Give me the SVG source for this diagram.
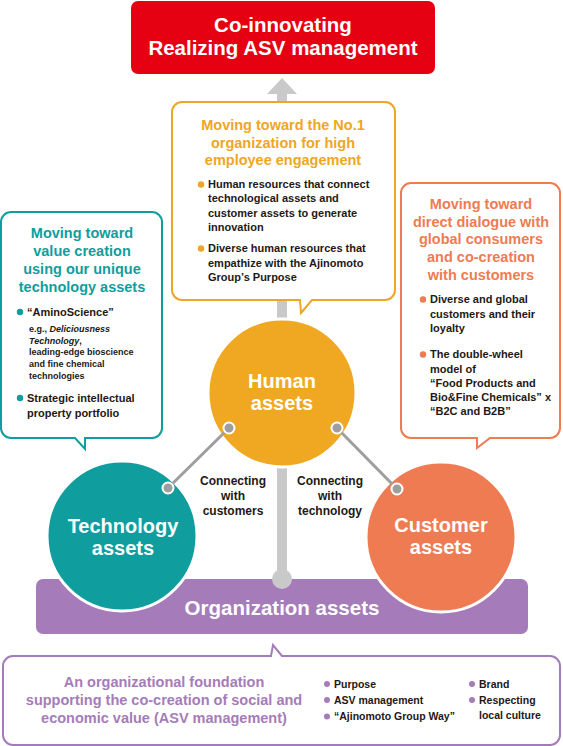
<svg xmlns="http://www.w3.org/2000/svg" width="563" height="746" viewBox="0 0 563 746">
<style>
text{font-family:"Liberation Sans",Arial,sans-serif;font-weight:bold}
.c{text-anchor:middle}
.w{fill:#ffffff}
.d{fill:#231815}
.b11{font-size:11px}
.t{font-size:14.5px}
.big{font-size:20px}
.box{fill:#ffffff;stroke-width:2}
.circ{stroke:#ffffff;stroke-width:3}
.conn{stroke:#9e9e9e;stroke-width:3;fill:none}
.dot{fill:#9e9e9e;stroke:#ffffff;stroke-width:2}
</style>
<rect width="563" height="746" fill="#ffffff"/>

<g id="shaft">
<rect x="277" y="92" width="10" height="488" fill="#c9c9c9"/>
<polygon points="282,78 297,94 267,94" fill="#c9c9c9"/>
</g>

<g id="goal">
<rect x="131" y="1" width="304" height="73" rx="7" fill="#e50012"/>
<text class="c w" x="283" y="32" font-size="20.5">Co-innovating</text>
<text class="c w" x="283" y="55" font-size="20.5">Realizing ASV management</text>
</g>

<g id="human-box">
<path class="box" stroke="#eea624" d="M182,102 H385 A10,10 0 0 1 395,112 V290 A10,10 0 0 1 385,300 H312 L301,313 L300,300 H182 A10,10 0 0 1 172,290 V112 A10,10 0 0 1 182,102 Z"/>
<g fill="#eea624">
<text class="c t" x="283" y="130">Moving toward the No.1</text>
<text class="c t" x="283" y="147.5">organization for high</text>
<text class="c t" x="283" y="165">employee engagement</text>
<circle cx="201" cy="184.5" r="3.2"/>
<circle cx="201" cy="248.5" r="3.2"/>
</g>
<g class="d b11">
<text x="208" y="188">Human resources that connect</text>
<text x="208" y="202.3">technological assets and</text>
<text x="208" y="216.6">customer assets to generate</text>
<text x="208" y="231">innovation</text>
<text x="208" y="252">Diverse human resources that</text>
<text x="208" y="266.5">empathize with the Ajinomoto</text>
<text x="208" y="281">Group’s Purpose</text>
</g>
</g>

<g id="tech-box">
<path class="box" stroke="#0f9d9e" d="M11,212 H152 A10,10 0 0 1 162,222 V428 A10,10 0 0 1 152,438 H85 V449 L75,438 H11 A10,10 0 0 1 1,428 V222 A10,10 0 0 1 11,212 Z"/>
<g fill="#0f9d9e">
<text class="c t" x="82" y="238">Moving toward</text>
<text class="c t" x="82" y="256">value creation</text>
<text class="c t" x="82" y="274">using our unique</text>
<text class="c t" x="82" y="292">technology assets</text>
<circle cx="20" cy="312" r="3.2"/>
<circle cx="20" cy="398" r="3.2"/>
</g>
<g class="d">
<text class="b11" x="27" y="316">“AminoScience”</text>
<text x="29" y="331.7" font-size="9">e.g., <tspan font-style="italic">Deliciousness</tspan></text>
<text x="29" y="343.5" font-size="9"><tspan font-style="italic">Technology</tspan>,</text>
<text x="29" y="355.3" font-size="9">leading-edge bioscience</text>
<text x="29" y="367.1" font-size="9">and fine chemical</text>
<text x="29" y="379" font-size="9">technologies</text>
<text class="b11" x="27" y="402">Strategic intellectual</text>
<text class="b11" x="27" y="417">property portfolio</text>
</g>
</g>

<g id="customer-box">
<path class="box" stroke="#ef7b52" d="M411,183 H550 A10,10 0 0 1 560,193 V428 A10,10 0 0 1 550,438 H490 L477,448 V438 H411 A10,10 0 0 1 401,428 V193 A10,10 0 0 1 411,183 Z"/>
<g fill="#ef7b52">
<text class="c t" x="481" y="208.5">Moving toward</text>
<text class="c t" x="481" y="226.5">direct dialogue with</text>
<text class="c t" x="481" y="244">global consumers</text>
<text class="c t" x="481" y="262">and co-creation</text>
<text class="c t" x="481" y="280">with customers</text>
<circle cx="423" cy="299.5" r="3.2"/>
<circle cx="423" cy="354.5" r="3.2"/>
</g>
<g class="d b11">
<text x="430" y="303.3">Diverse and global</text>
<text x="430" y="317.6">customers and their</text>
<text x="430" y="331.8">loyalty</text>
<text x="430" y="358.3">The double-wheel</text>
<text x="430" y="372.6">model of</text>
<text x="430" y="386.8">“Food Products and</text>
<text x="430" y="401">Bio&amp;Fine Chemicals” x</text>
<text x="430" y="415.2">“B2C and B2B”</text>
</g>
</g>

<g id="organization-assets">
<rect x="36" y="579" width="492" height="55" rx="7" fill="#a57cb9"/>
<circle cx="282" cy="579" r="10" fill="#c9c9c9"/>
</g>

<g id="human-assets">
<circle class="circ" cx="282" cy="393" r="74" fill="#f0a822"/>
<text class="c w big" x="282" y="388">Human</text>
<text class="c w big" x="282" y="410">assets</text>
</g>

<g id="technology-assets">
<circle class="circ" cx="122" cy="536" r="75" fill="#0f9d9e"/>
<text class="c w big" x="123" y="533">Technology</text>
<text class="c w big" x="123" y="555">assets</text>
</g>

<g id="customer-assets">
<circle class="circ" cx="441" cy="537" r="75" fill="#ef7b52"/>
<text class="c w big" x="441" y="532">Customer</text>
<text class="c w big" x="441" y="554">assets</text>
</g>

<text class="c w" x="282" y="615" font-size="20.5">Organization assets</text>

<g id="connectors">
<line class="conn" x1="229" y1="428" x2="168" y2="488"/>
<line class="conn" x1="337" y1="428" x2="397" y2="489"/>
<circle class="dot" cx="229" cy="428" r="5.5"/>
<circle class="dot" cx="168" cy="488" r="5.5"/>
<circle class="dot" cx="337" cy="428" r="5.5"/>
<circle class="dot" cx="397" cy="489" r="5.5"/>
<g class="c d" font-size="12">
<text x="233" y="485">Connecting</text>
<text x="233" y="500">with</text>
<text x="233" y="515">customers</text>
<text x="330" y="485">Connecting</text>
<text x="330" y="500">with</text>
<text x="330" y="515">technology</text>
</g>
</g>

<g id="foundation-box">
<path class="box" stroke="#a57cb9" d="M13,656 H271 L273,645 L282,656 H550 A10,10 0 0 1 560,666 V735 A10,10 0 0 1 550,745 H13 A10,10 0 0 1 3,735 V666 A10,10 0 0 1 13,656 Z"/>
<g fill="#a57cb9">
<text class="c t" x="164" y="687">An organizational foundation</text>
<text class="c t" x="164" y="705">supporting the co-creation of social and</text>
<text class="c t" x="164" y="723">economic value (ASV management)</text>
<circle cx="327" cy="684" r="3"/>
<circle cx="327" cy="700" r="3"/>
<circle cx="327" cy="716.5" r="3"/>
<circle cx="472" cy="684" r="3"/>
<circle cx="472" cy="700" r="3"/>
</g>
<g class="d" font-size="10.5">
<text x="334" y="687.7">Purpose</text>
<text x="334" y="704">ASV management</text>
<text x="334" y="720.3">“Ajinomoto Group Way”</text>
<text x="479" y="687.7">Brand</text>
<text x="479" y="704">Respecting</text>
<text x="479" y="718.5">local culture</text>
</g>
</g>
</svg>
